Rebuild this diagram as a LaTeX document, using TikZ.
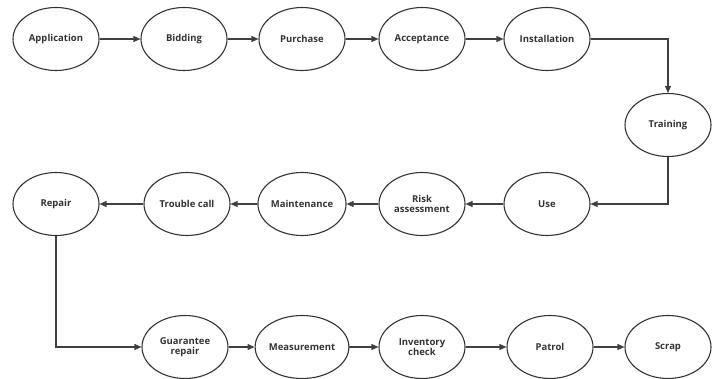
\documentclass[tikz,border=0pt]{standalone}
\usepackage{fontspec}
\setmainfont{Open Sans}
\usetikzlibrary{shapes.geometric,arrows.meta}
\begin{document}
\begin{tikzpicture}[x=1pt,y=-1pt,
  stagebox/.style={ellipse,draw=black!80,line width=1.1pt,minimum width=86pt,minimum height=63pt,inner sep=0pt,align=center,font=\bfseries\fontsize{9.5}{10.5}\selectfont,text=black!80},
  flow/.style={draw=black!75,line width=1.1pt,-{Triangle[length=7pt,width=6pt]}}]
\useasboundingbox (0,0) rectangle (717,379);
\node[stagebox] (app) at (56,39) {Application};
\node[stagebox] (bid) at (184,39) {Bidding};
\node[stagebox] (pur) at (302,39) {Purchase};
\node[stagebox] (acc) at (422,39) {Acceptance};
\node[stagebox] (ins) at (547,39) {Installation};
\node[stagebox] (tra) at (668,125) {Training};
\node[stagebox] (use) at (547,204) {Use};
\node[stagebox] (risk) at (422,204) {Risk\\assessment};
\node[stagebox] (mai) at (302,204) {Maintenance};
\node[stagebox] (tro) at (187,204) {Trouble call};
\node[stagebox] (rep) at (56,204) {Repair};
\node[stagebox] (gua) at (185,347) {Guarantee\\repair};
\node[stagebox] (mea) at (302,347) {Measurement};
\node[stagebox] (inv) at (422,347) {Inventory\\check};
\node[stagebox] (pat) at (550,347) {Patrol};
\node[stagebox] (scr) at (668,347) {Scrap};
\draw[flow] (app) -- (bid);
\draw[flow] (bid) -- (pur);
\draw[flow] (pur) -- (acc);
\draw[flow] (acc) -- (ins);
\draw[flow] (ins.east) -| (tra.north);
\draw[flow] (tra.south) |- (use.east);
\draw[flow] (use) -- (risk);
\draw[flow] (risk) -- (mai);
\draw[flow] (mai) -- (tro);
\draw[flow] (tro) -- (rep);
\draw[flow] (rep.south) |- (gua.west);
\draw[flow] (gua) -- (mea);
\draw[flow] (mea) -- (inv);
\draw[flow] (inv) -- (pat);
\draw[flow] (pat) -- (scr);
\end{tikzpicture}
\end{document}
